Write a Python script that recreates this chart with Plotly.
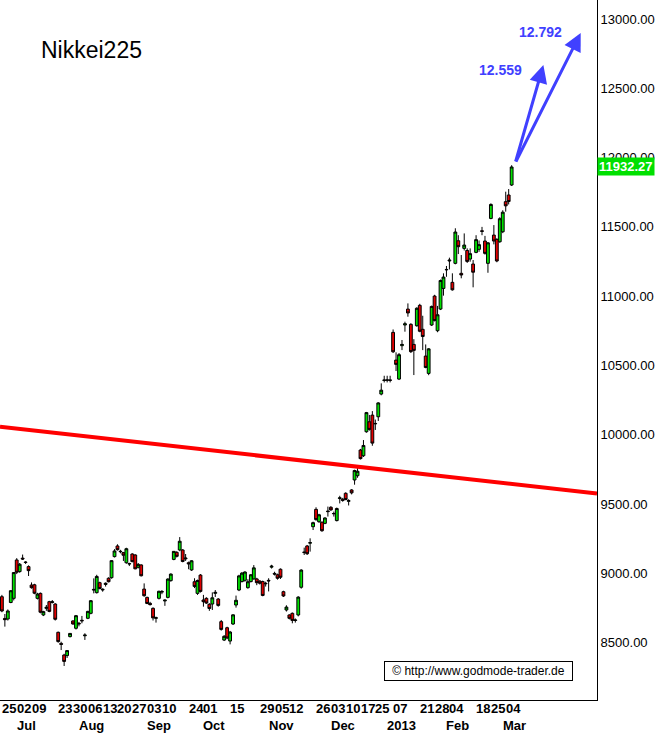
import plotly.graph_objects as go

# ---------------- data ----------------
DATES = [
    "2012-06-25", "2012-06-26", "2012-06-27", "2012-06-28", "2012-06-29",
    "2012-07-02", "2012-07-03", "2012-07-04", "2012-07-05", "2012-07-06",
    "2012-07-09", "2012-07-10", "2012-07-11", "2012-07-12", "2012-07-13",
    "2012-07-17", "2012-07-18", "2012-07-19", "2012-07-20",
    "2012-07-23", "2012-07-24", "2012-07-25", "2012-07-26", "2012-07-27",
    "2012-07-30", "2012-07-31", "2012-08-01", "2012-08-02", "2012-08-03",
    "2012-08-06", "2012-08-07", "2012-08-08", "2012-08-09", "2012-08-10",
    "2012-08-13", "2012-08-14", "2012-08-15", "2012-08-16", "2012-08-17",
    "2012-08-20", "2012-08-21", "2012-08-22", "2012-08-23", "2012-08-24",
    "2012-08-27", "2012-08-28", "2012-08-29", "2012-08-30", "2012-08-31",
    "2012-09-03", "2012-09-04", "2012-09-05", "2012-09-06", "2012-09-07",
    "2012-09-10", "2012-09-11", "2012-09-12", "2012-09-13", "2012-09-14",
    "2012-09-18", "2012-09-19", "2012-09-20", "2012-09-21",
    "2012-09-24", "2012-09-25", "2012-09-26", "2012-09-27", "2012-09-28",
    "2012-10-01", "2012-10-02", "2012-10-03", "2012-10-04", "2012-10-05",
    "2012-10-09", "2012-10-10", "2012-10-11", "2012-10-12",
    "2012-10-15", "2012-10-16", "2012-10-17", "2012-10-18", "2012-10-19",
    "2012-10-22", "2012-10-23", "2012-10-24", "2012-10-25", "2012-10-26",
    "2012-10-29", "2012-10-30", "2012-10-31", "2012-11-01", "2012-11-02",
    "2012-11-05", "2012-11-06", "2012-11-07", "2012-11-08", "2012-11-09",
    "2012-11-12", "2012-11-13", "2012-11-14", "2012-11-15", "2012-11-16",
    "2012-11-19", "2012-11-20", "2012-11-21", "2012-11-22",
    "2012-11-26", "2012-11-27", "2012-11-28", "2012-11-29", "2012-11-30",
    "2012-12-03", "2012-12-04", "2012-12-05", "2012-12-06", "2012-12-07",
    "2012-12-10", "2012-12-11", "2012-12-12", "2012-12-13", "2012-12-14",
    "2012-12-17", "2012-12-18", "2012-12-19", "2012-12-20", "2012-12-21",
    "2012-12-25", "2012-12-26", "2012-12-27", "2012-12-28",
    "2013-01-03", "2013-01-04",
    "2013-01-07", "2013-01-08", "2013-01-09", "2013-01-10", "2013-01-11",
    "2013-01-15", "2013-01-16", "2013-01-17", "2013-01-18",
    "2013-01-21", "2013-01-22", "2013-01-23", "2013-01-24", "2013-01-25",
    "2013-01-28", "2013-01-29", "2013-01-30", "2013-01-31", "2013-02-01",
    "2013-02-04", "2013-02-05", "2013-02-06", "2013-02-07", "2013-02-08",
    "2013-02-12", "2013-02-13", "2013-02-14", "2013-02-15",
    "2013-02-18", "2013-02-19", "2013-02-20", "2013-02-21", "2013-02-22",
    "2013-02-25", "2013-02-26", "2013-02-27", "2013-02-28", "2013-03-01",
    "2013-03-04", "2013-03-05", "2013-03-06",
]

OPEN = [
    8832, 8675, 8671, 8790, 8820,
    9097, 9013, 9110, 9082, 9049,
    8916, 8918, 8820, 8856, 8700,
    8748, 8796, 8790, 8779,
    8575, 8495, 8411, 8407, 8544,
    8657, 8604, 8640, 8662, 8550,
    8676, 8712, 8885, 8861, 8933,
    8880, 8920, 8965, 8969, 9121,
    9198, 9160, 9150, 9077, 9068,
    9140, 9133, 9044, 9061, 8887,
    8827, 8784, 8748, 8676, 8820,
    8865, 8801, 8827, 8948, 9101,
    9152, 9169, 9169, 9105,
    9077, 9025, 8940, 8856, 8988,
    8808, 8820, 8777, 8779, 8856,
    8815, 8652, 8519, 8608,
    8512, 8635, 8772, 8880, 8941,
    8950, 8897, 8941, 8960, 8960,
    8945, 8941, 8925, 8950, 9045,
    9000, 8990, 9030, 8868, 8736,
    8700, 8712, 8660, 8700, 8900,
    9150, 9198, 9218, 9337,
    9462, 9373, 9369, 9361, 9450,
    9477, 9430, 9381, 9540, 9535,
    9578, 9520, 9602, 9674, 9705,
    9890, 9849, 10022, 10094, 10142,
    10082, 10130, 10294, 10392,
    10395, 10396,
    10739, 10539, 10402, 10643, 10792,
    10907, 10797, 10652, 10787,
    10934, 10761, 10568, 10443, 10792,
    11001, 10751, 10907, 11056, 11193,
    11254, 11100, 11237, 11400, 11165,
    11345, 11330, 11268, 11232,
    11316, 11338, 11472, 11398, 11237,
    11561, 11441, 11410, 11393, 11465,
    11682, 11730, 11802,
]

HIGH = [
    8845, 8707, 8740, 8880, 9010,
    9110, 9075, 9136, 9088, 9058,
    8935, 8925, 8860, 8862, 8730,
    8772, 8802, 8808, 8785,
    8580, 8507, 8420, 8446, 8570,
    8662, 8700, 8650, 8693, 8568,
    8730, 8808, 8964, 8990, 8940,
    8892, 8935, 8972, 9095, 9175,
    9210, 9170, 9155, 9185, 9077,
    9145, 9138, 9075, 9066, 8928,
    8832, 8795, 8755, 8688, 8875,
    8880, 8812, 8965, 9000, 9160,
    9160, 9262, 9175, 9140,
    9085, 9095, 8965, 8955, 8995,
    8845, 8828, 8785, 8863, 8880,
    8822, 8664, 8555, 8615,
    8585, 8705, 8840, 8990, 9010,
    9015, 8958, 8995, 9060, 8968,
    8950, 8948, 8940, 8965, 9062,
    9012, 8998, 9036, 8875, 8770,
    8705, 8718, 8675, 8835, 9030,
    9186, 9205, 9253, 9373,
    9477, 9430, 9375, 9405, 9482,
    9485, 9446, 9475, 9560, 9545,
    9585, 9535, 9608, 9748, 9775,
    9898, 9962, 10165, 10143, 10171,
    10110, 10235, 10371, 10426,
    10426, 10426,
    10760, 10595, 10590, 10684, 10816,
    10948, 10805, 10690, 10920,
    10945, 10859, 10652, 10625, 10932,
    11010, 10930, 11120, 11165, 11218,
    11278, 11165, 11490, 11440, 11297,
    11453, 11345, 11345, 11261,
    11440, 11402, 11500, 11435, 11390,
    11670, 11513, 11418, 11570, 11620,
    11754, 11773, 11945,
]

LOW = [
    8720, 8616, 8660, 8785, 8805,
    8995, 9005, 9097, 9068, 8981,
    8890, 8850, 8812, 8712, 8692,
    8730, 8720, 8783, 8660,
    8500, 8447, 8332, 8390, 8538,
    8630, 8595, 8618, 8640, 8520,
    8670, 8705, 8856, 8855, 8885,
    8868, 8905, 8935, 8962, 9115,
    9165, 9145, 9090, 9070, 9053,
    9080, 9030, 9036, 8978, 8832,
    8778, 8768, 8660, 8645, 8812,
    8850, 8766, 8820, 8940, 9095,
    9115, 9160, 9080, 9090,
    9030, 9018, 8894, 8845, 8862,
    8760, 8780, 8730, 8736, 8830,
    8760, 8587, 8512, 8525,
    8488, 8628, 8753, 8872, 8935,
    8940, 8890, 8935, 8955, 8915,
    8920, 8835, 8905, 8870, 9035,
    8985, 8955, 8960, 8830, 8725,
    8668, 8640, 8645, 8690, 8890,
    9133, 9133, 9157, 9313,
    9380, 9365, 9300, 9355, 9410,
    9452, 9410, 9375, 9505, 9517,
    9528, 9490, 9570, 9640, 9690,
    9822, 9840, 10015, 10030, 9921,
    10035, 10100, 10285, 10378,
    10378, 10378,
    10590, 10460, 10395, 10611, 10744,
    10852, 10590, 10431, 10780,
    10740, 10611, 10480, 10430, 10785,
    10818, 10740, 10900, 11004, 11140,
    11193, 11040, 11230, 11304, 11129,
    11330, 11240, 11249, 11064,
    11310, 11320, 11440, 11300, 11169,
    11555, 11374, 11245, 11385, 11455,
    11610, 11662, 11795,
]

CLOSE = [
    8729, 8666, 8729, 8875, 9006,
    9008, 9066, 9104, 9079, 9020,
    8897, 8857, 8851, 8720, 8724,
    8755, 8726, 8795, 8669,
    8508, 8488, 8365, 8443, 8567,
    8635, 8695, 8636, 8658, 8555,
    8726, 8803, 8881, 8978, 8891,
    8885, 8929, 8940, 9092, 9162,
    9171, 9157, 9131, 9178, 9070,
    9085, 9033, 9065, 8983, 8839,
    8783, 8775, 8679, 8680, 8871,
    8869, 8807, 8959, 8995, 9159,
    9123, 9232, 9086, 9110,
    9069, 9091, 8906, 8949, 8870,
    8796, 8786, 8747, 8824, 8863,
    8769, 8596, 8546, 8534,
    8577, 8701, 8806, 8982, 9002,
    9010, 8940, 8990, 9040, 8933,
    8929, 8841, 8928, 8946, 9052,
    8995, 8965, 8972, 8837, 8757,
    8676, 8661, 8664, 8829, 9024,
    9153, 9142, 9222, 9366,
    9388, 9423, 9308, 9400, 9446,
    9458, 9432, 9468, 9545, 9527,
    9533, 9525, 9581, 9742, 9737,
    9828, 9923, 10160, 10039, 9940,
    10080, 10230, 10322, 10395,
    10395, 10393,
    10599, 10508, 10578, 10652, 10801,
    10879, 10600, 10609, 10913,
    10747, 10709, 10486, 10620, 10926,
    10824, 10866, 11113, 11138, 11191,
    11260, 11046, 11463, 11357, 11153,
    11369, 11251, 11307, 11173,
    11408, 11372, 11468, 11309, 11385,
    11662, 11398, 11254, 11559, 11606,
    11652, 11683, 11932.27,
]

# x-axis labels (first trading day of the labelled weeks, and months)
DAY_LABEL_DATES = [
    "2012-06-25", "2012-07-02", "2012-07-09", "2012-07-23", "2012-07-30",
    "2012-08-06", "2012-08-13", "2012-08-20", "2012-08-27", "2012-09-03",
    "2012-09-10", "2012-09-24", "2012-10-01", "2012-10-15", "2012-10-29",
    "2012-11-05", "2012-11-12", "2012-11-26", "2012-12-03", "2012-12-10",
    "2012-12-17", "2012-12-25", "2013-01-07", "2013-01-21", "2013-01-28",
    "2013-02-04", "2013-02-18", "2013-02-25", "2013-03-04",
]
MONTH_NAMES = {"01": "2013", "02": "Feb", "03": "Mar", "07": "Jul", "08": "Aug",
               "09": "Sep", "10": "Oct", "11": "Nov", "12": "Dec"}

Y_TICKS = [8500, 9000, 9500, 10000, 10500, 11000, 11500, 12000, 12500, 13000]

TREND_X = [-0.64, 200.8]
TREND_Y = [10058, 9577]

TARGET_TEXT = ["12.559", "12.792"]
LAST_PRICE = 11932.27

# ---------------- figure ----------------
FONT = "Liberation Sans, Arial, sans-serif"
BLUE = "#4040FF"
N = len(DATES)
X = list(range(N))

fig = go.Figure()

fig.add_trace(go.Scatter(
    x=TREND_X, y=TREND_Y, mode="lines",
    line=dict(color="#FF0000", width=4),
    hoverinfo="skip", showlegend=False,
))

fig.add_trace(go.Candlestick(
    x=X, open=OPEN, high=HIGH, low=LOW, close=CLOSE,
    increasing=dict(fillcolor="#00E000", line=dict(color="black", width=1)),
    decreasing=dict(fillcolor="#E00000", line=dict(color="black", width=1)),
    whiskerwidth=0, showlegend=False, hoverinfo="skip",
))

annotations = []

# day labels (left aligned on the candle)
for d in DAY_LABEL_DATES:
    i = DATES.index(d)
    annotations.append(dict(
        x=i, xref="x", xanchor="left", xshift=-2,
        y=-0.0121, yref="paper", yanchor="middle",
        text=d[-2:], showarrow=False,
        font=dict(family=FONT, size=13, color="black", weight="bold"),
    ))

# month labels (left aligned on the first candle of the month)
prev = None
for i, d in enumerate(DATES):
    m = d[5:7]
    if prev is not None and m != prev:
        annotations.append(dict(
            x=i, xref="x", xanchor="left", xshift=-2,
            y=-0.0371, yref="paper", yanchor="middle",
            text=MONTH_NAMES[m], showarrow=False,
            font=dict(family=FONT, size=13, color="black", weight="bold"),
        ))
    prev = m

# title
annotations.append(dict(
    x=39 / 597, xref="paper", xanchor="left",
    y=0.928, yref="paper", yanchor="middle",
    text="Nikkei225", showarrow=False,
    font=dict(family=FONT, size=23, color="black"),
))

# last price box
annotations.append(dict(
    x=1, xref="paper", xanchor="left", xshift=0,
    y=LAST_PRICE, yref="y", yanchor="middle",
    text=f"{LAST_PRICE:.2f}", showarrow=False,
    bgcolor="#00E000", borderpad=1,
    font=dict(family=FONT, size=13, color="white", weight="bold"),
))

# target arrows
start_x, start_y = 173.2, 11961
for (tx, ty) in [(182.7, 12668), (195.3, 12899)]:
    annotations.append(dict(
        x=tx, y=ty, xref="x", yref="y",
        ax=start_x, ay=start_y, axref="x", ayref="y",
        text="", showarrow=True, arrowhead=2, arrowsize=1.2,
        arrowwidth=3, arrowcolor=BLUE, standoff=0, startstandoff=0,
    ))
for (lx, ly), t in zip([(168.1, 12632), (181.6, 12906)], TARGET_TEXT):
    annotations.append(dict(
        x=lx, y=ly, xref="x", yref="y", xanchor="center", yanchor="middle",
        text=t, showarrow=False,
        font=dict(family=FONT, size=14, color=BLUE, weight="bold"),
    ))

# copyright box
annotations.append(dict(
    x=478.5 / 597, xref="paper", xanchor="center",
    y=1 - 671 / 700, yref="paper", yanchor="middle",
    text="\u00a9 http://www.godmode-trader.de", showarrow=False,
    bgcolor="white", bordercolor="black", borderwidth=1, borderpad=2,
    width=183, height=14,
    font=dict(family=FONT, size=12, color="black"),
))

fig.update_layout(
    width=658, height=739,
    margin=dict(l=0, r=61, t=0, b=39, pad=0),
    paper_bgcolor="white", plot_bgcolor="white",
    showlegend=False,
    boxgap=0.05, boxgroupgap=0,
    annotations=annotations,
    xaxis=dict(
        range=[-0.64, 200.8], showticklabels=False, ticks="",
        showgrid=False, zeroline=False, showline=True,
        linecolor="black", linewidth=1, rangeslider=dict(visible=False),
        fixedrange=True,
    ),
    yaxis=dict(
        side="right", range=[8086.6, 13137],
        tickvals=Y_TICKS, ticktext=[f"{v:.2f}" for v in Y_TICKS],
        ticks="", showgrid=False, zeroline=False, showline=True,
        linecolor="black", linewidth=1,
        tickfont=dict(family=FONT, size=13, color="black"),
        fixedrange=True,
    ),
)

fig.write_html("out.html")
